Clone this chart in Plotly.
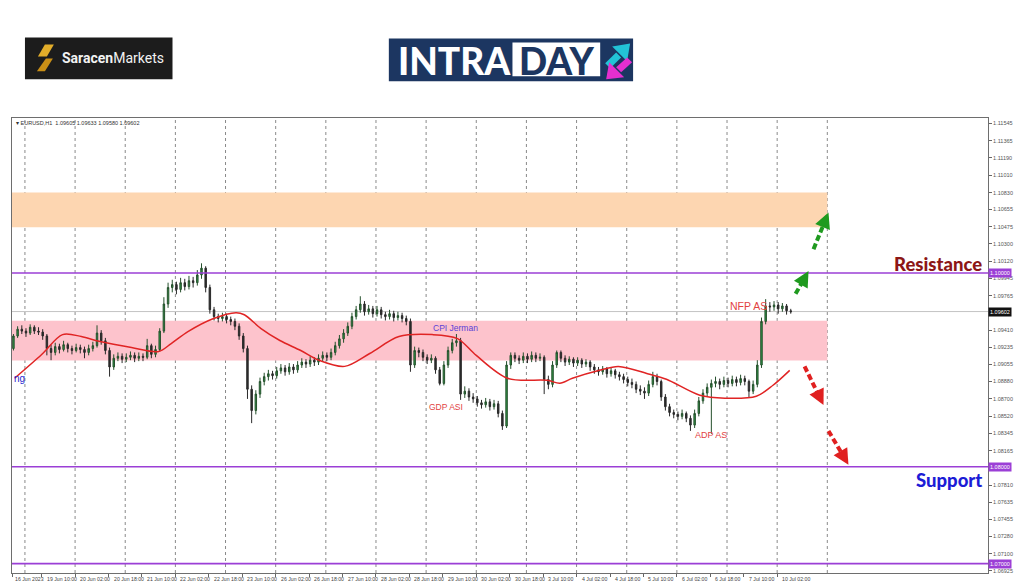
import plotly.graph_objects as go

# ---------------- DATA (EURUSD, 2-hour bars) ----------------
opens = [1.0922,1.0935,1.0942,1.0940,1.0938,1.0944,1.0940,1.0939,1.0935,1.0922,
1.0918,1.0924,1.0921,1.0926,1.0922,1.0920,1.0923,1.0921,1.0918,1.0922,
1.0925,1.0938,1.0930,1.0920,1.0903,1.0912,1.0914,1.0911,1.0913,1.0915,
1.0912,1.0914,1.0913,1.0925,1.0916,1.0921,1.0940,1.0968,1.0985,1.0988,
1.0983,1.0990,1.0986,1.0992,1.0990,1.0998,1.1005,1.0985,1.0962,1.0955,
1.0953,1.0955,1.0952,1.0950,1.0945,1.0935,1.0922,1.0880,1.0858,1.0875,
1.0888,1.0893,1.0896,1.0894,1.0899,1.0902,1.0898,1.0903,1.0900,1.0905,
1.0908,1.0906,1.0910,1.0908,1.0912,1.0915,1.0913,1.0918,1.0925,1.0932,
1.0938,1.0945,1.0955,1.0962,1.0968,1.0960,1.0963,1.0958,1.0962,1.0957,
1.0955,1.0958,1.0954,1.0956,1.0953,1.0950,1.0905,1.0920,1.0918,1.0913,
1.0910,1.0912,1.0900,1.0886,1.0905,1.0920,1.0928,1.0930,1.0875,1.0878,
1.0872,1.0870,1.0866,1.0864,1.0867,1.0862,1.0865,1.0855,1.0842,1.0905,
1.0915,1.0912,1.0910,1.0914,1.0911,1.0915,1.0912,1.0913,1.0890,1.0885,
1.0905,1.0918,1.0912,1.0908,1.0911,1.0907,1.0910,1.0906,1.0908,1.0903,
1.0900,1.0898,1.0901,1.0896,1.0899,1.0895,1.0893,1.0890,1.0887,1.0885,
1.0880,1.0878,1.0876,1.0885,1.0893,1.0888,1.0872,1.0862,1.0856,1.0854,
1.0852,1.0855,1.0850,1.0843,1.0855,1.0868,1.0876,1.0882,1.0886,1.0888,
1.0885,1.0889,1.0886,1.0890,1.0887,1.0891,1.0888,1.0878,1.0885,1.0905,
1.0950,1.0966,1.0965,1.0967,1.0963,1.0966,1.0961]
highs = [1.0937,1.0945,1.0946,1.0943,1.0947,1.0946,1.0944,1.0942,1.0937,1.0926,
1.0928,1.0927,1.0930,1.0928,1.0925,1.0927,1.0926,1.0924,1.0926,1.0929,
1.0946,1.0941,1.0933,1.0923,1.0916,1.0918,1.0917,1.0917,1.0919,1.0918,
1.0918,1.0917,1.0932,1.0927,1.0925,1.0943,1.0975,1.0990,1.0993,1.0991,
1.0995,1.0994,1.0997,1.0996,1.1003,1.1010,1.1007,1.0988,1.0965,1.0958,
1.0959,1.0958,1.0955,1.0953,1.0948,1.0938,1.0925,1.0884,1.0879,1.0892,
1.0897,1.0900,1.0899,1.0903,1.0906,1.0905,1.0907,1.0906,1.0909,1.0912,
1.0911,1.0914,1.0913,1.0916,1.0919,1.0918,1.0922,1.0929,1.0936,1.0942,
1.0949,1.0959,1.0966,1.0976,1.0971,1.0967,1.0966,1.0966,1.0965,1.0960,
1.0962,1.0961,1.0960,1.0959,1.0956,1.0953,1.0924,1.0923,1.0921,1.0916,
1.0916,1.0914,1.0903,1.0909,1.0924,1.0932,1.0937,1.0933,1.0883,1.0881,
1.0876,1.0873,1.0869,1.0871,1.0870,1.0869,1.0868,1.0858,1.0909,1.0918,
1.0918,1.0915,1.0918,1.0917,1.0919,1.0918,1.0917,1.0915,1.0894,1.0909,
1.0920,1.0920,1.0915,1.0914,1.0913,1.0913,1.0912,1.0911,1.0910,1.0906,
1.0903,1.0904,1.0903,1.0902,1.0901,1.0898,1.0896,1.0893,1.0891,1.0888,
1.0884,1.0882,1.0889,1.0898,1.0896,1.0890,1.0875,1.0865,1.0859,1.0857,
1.0859,1.0857,1.0853,1.0859,1.0872,1.0880,1.0886,1.0890,1.0893,1.0891,
1.0893,1.0892,1.0894,1.0893,1.0895,1.0894,1.0890,1.0889,1.0910,1.0954,
1.0973,1.0970,1.0971,1.0970,1.0969,1.0968,1.0963]
lows = [1.0920,1.0933,1.0937,1.0934,1.0936,1.0937,1.0936,1.0931,1.0915,1.0910,
1.0915,1.0917,1.0919,1.0918,1.0916,1.0918,1.0917,1.0912,1.0915,1.0919,
1.0923,1.0926,1.0916,1.0893,1.0900,1.0909,1.0907,1.0908,1.0910,1.0908,
1.0909,1.0909,1.0911,1.0912,1.0913,1.0919,1.0938,1.0964,1.0980,1.0978,
1.0980,1.0982,1.0983,1.0985,1.0987,1.0994,1.0980,1.0958,1.0951,1.0949,
1.0950,1.0948,1.0946,1.0941,1.0931,1.0918,1.0870,1.0845,1.0854,1.0871,
1.0884,1.0889,1.0890,1.0891,1.0896,1.0894,1.0895,1.0896,1.0897,1.0902,
1.0902,1.0903,1.0904,1.0905,1.0909,1.0909,1.0910,1.0915,1.0922,1.0928,
1.0935,1.0942,1.0952,1.0959,1.0956,1.0957,1.0954,1.0955,1.0953,1.0951,
1.0952,1.0950,1.0951,1.0949,1.0946,1.0898,1.0902,1.0913,1.0909,1.0906,
1.0907,1.0896,1.0884,1.0884,1.0902,1.0917,1.0924,1.0869,1.0871,1.0868,
1.0866,1.0862,1.0860,1.0861,1.0858,1.0859,1.0851,1.0838,1.0840,1.0901,
1.0908,1.0906,1.0907,1.0907,1.0908,1.0908,1.0909,1.0875,1.0880,1.0882,
1.0902,1.0908,1.0904,1.0905,1.0903,1.0904,1.0902,1.0903,1.0899,1.0896,
1.0894,1.0895,1.0892,1.0893,1.0891,1.0889,1.0886,1.0883,1.0881,1.0876,
1.0874,1.0870,1.0873,1.0882,1.0884,1.0868,1.0858,1.0852,1.0850,1.0848,
1.0849,1.0846,1.0837,1.0840,1.0852,1.0865,1.0872,1.0834,1.0882,1.0880,
1.0882,1.0882,1.0883,1.0883,1.0884,1.0884,1.0872,1.0875,1.0882,1.0902,
1.0947,1.0960,1.0961,1.0958,1.0960,1.0957,1.0958]
closes = [1.0935,1.0942,1.0940,1.0938,1.0944,1.0940,1.0939,1.0935,1.0922,1.0918,
1.0924,1.0921,1.0926,1.0922,1.0920,1.0923,1.0921,1.0918,1.0922,1.0925,
1.0938,1.0930,1.0920,1.0903,1.0912,1.0914,1.0911,1.0913,1.0915,1.0912,
1.0914,1.0913,1.0925,1.0916,1.0921,1.0940,1.0968,1.0985,1.0988,1.0983,
1.0990,1.0986,1.0992,1.0990,1.0998,1.1005,1.0985,1.0962,1.0955,1.0953,
1.0955,1.0952,1.0950,1.0945,1.0935,1.0922,1.0880,1.0858,1.0875,1.0888,
1.0893,1.0896,1.0894,1.0899,1.0902,1.0898,1.0903,1.0900,1.0905,1.0908,
1.0906,1.0910,1.0908,1.0912,1.0915,1.0913,1.0918,1.0925,1.0932,1.0938,
1.0945,1.0955,1.0962,1.0968,1.0960,1.0963,1.0958,1.0962,1.0957,1.0955,
1.0958,1.0954,1.0956,1.0953,1.0950,1.0905,1.0920,1.0918,1.0913,1.0910,
1.0912,1.0900,1.0886,1.0905,1.0920,1.0928,1.0930,1.0875,1.0878,1.0872,
1.0870,1.0866,1.0864,1.0867,1.0862,1.0865,1.0855,1.0842,1.0905,1.0915,
1.0912,1.0910,1.0914,1.0911,1.0915,1.0912,1.0913,1.0890,1.0885,1.0905,
1.0918,1.0912,1.0908,1.0911,1.0907,1.0910,1.0906,1.0908,1.0903,1.0900,
1.0898,1.0901,1.0896,1.0899,1.0895,1.0893,1.0890,1.0887,1.0885,1.0880,
1.0878,1.0876,1.0885,1.0893,1.0888,1.0872,1.0862,1.0856,1.0854,1.0852,
1.0855,1.0850,1.0843,1.0855,1.0868,1.0876,1.0882,1.0886,1.0888,1.0885,
1.0889,1.0886,1.0890,1.0887,1.0891,1.0888,1.0878,1.0885,1.0905,1.0950,
1.0966,1.0965,1.0967,1.0963,1.0966,1.0961,1.0960]

# moving average (hour-index, price)
ma_hour = [1, 14, 24, 33, 42, 57, 70, 76, 84, 96, 107, 111, 119, 128, 138, 147, 159,
           171, 185, 201, 213, 222, 237, 256, 262, 268, 281, 290, 305, 313, 329, 341,
           356, 364, 372]
ma_price = [1.08913, 1.09159, 1.09364, 1.09344, 1.09292, 1.09231, 1.09190, 1.09272,
            1.09395, 1.09528, 1.09590, 1.09569, 1.09426, 1.09303, 1.09200, 1.09097,
            1.09036, 1.09169, 1.09344, 1.09364, 1.09323, 1.09149, 1.08913, 1.08892,
            1.08862, 1.08913, 1.08995, 1.09036, 1.08954, 1.08903, 1.08738, 1.08708,
            1.08728, 1.08841, 1.08995]

# time axis labels (hour index of each label)
tick_hour = [0, 14, 30, 46, 62, 78, 94, 110, 126, 142, 158, 174, 190, 206, 222, 238,
             254, 270, 286, 302, 318, 334, 350, 366]
tick_text = ["16 Jun 2023", "19 Jun 10:00", "20 Jun 02:00", "20 Jun 18:00", "21 Jun 10:00",
             "22 Jun 02:00", "22 Jun 18:00", "23 Jun 10:00", "26 Jun 02:00", "26 Jun 18:00",
             "27 Jun 10:00", "28 Jun 02:00", "28 Jun 18:00", "29 Jun 10:00", "30 Jun 02:00",
             "30 Jun 18:00", "3 Jul 10:00", "4 Jul 02:00", "4 Jul 18:00", "5 Jul 10:00",
             "6 Jul 02:00", "6 Jul 18:00", "7 Jul 10:00", "10 Jul 02:00"]
grid_hour = [6, 30, 54, 78, 102, 126, 150, 174, 198, 222, 246, 270, 294, 318, 342, 366, 390]

price_ticks = [1.11545, 1.11365, 1.11190, 1.11010, 1.10830, 1.10655, 1.10475, 1.10300,
               1.10120, 1.09945, 1.09765, 1.09410, 1.09235, 1.09055, 1.08880, 1.08700,
               1.08520, 1.08345, 1.08165, 1.07810, 1.07635, 1.07455, 1.07280, 1.07100,
               1.06925]

levels = [1.10000, 1.08000, 1.07000]
current_price = 1.09602
supply_zone = [1.10472, 1.10831]
demand_zone = [1.09097, 1.09508]
zone_end_hour = 390

# ---------------- FIGURE ----------------
X_MIN, X_MAX = -0.19, 466.9
Y_MIN, Y_MAX = 1.06903, 1.11600
L, R, T, B = 11, 990, 118, 576
W, H = 1024, 587

def px(xp):
    return (xp - L) / (R - L)

def py(yp):
    return (B - yp) / (B - T)

def hx(xp):
    return X_MIN + (xp - L) / (R - L) * (X_MAX - X_MIN)

def pv(yp):
    return Y_MAX - (yp - T) / (B - T) * (Y_MAX - Y_MIN)

bar_x = [2 * j + 0.5 for j in range(len(closes))]

fig = go.Figure()

fig.add_trace(go.Candlestick(
    x=bar_x, open=opens, high=highs, low=lows, close=closes,
    increasing=dict(line=dict(color='#25502c', width=1), fillcolor='#2f9b47'),
    decreasing=dict(line=dict(color='#2a2a2a', width=1), fillcolor='#2a2a2a'),
    whiskerwidth=0, showlegend=False, hoverinfo='skip'))

fig.add_trace(go.Scatter(
    x=ma_hour, y=ma_price, mode='lines',
    line=dict(color='#e02424', width=1.5, shape='spline', smoothing=0.9),
    showlegend=False, hoverinfo='skip'))

shapes = []
shapes.append(dict(type='rect', xref='x', yref='y', x0=X_MIN, x1=zone_end_hour,
                   y0=supply_zone[0], y1=supply_zone[1], fillcolor='#fdd6b1',
                   line=dict(width=0), layer='below'))
shapes.append(dict(type='rect', xref='x', yref='y', x0=X_MIN, x1=zone_end_hour,
                   y0=demand_zone[0], y1=demand_zone[1], fillcolor='#fdc3cc',
                   line=dict(width=0), layer='below'))
for g in grid_hour:
    shapes.append(dict(type='line', xref='x', yref='paper', x0=g, x1=g, y0=0, y1=1,
                       line=dict(color='#8a8a8a', width=1, dash='dot'), layer='below'))
shapes.append(dict(type='line', xref='paper', yref='y', x0=0, x1=1,
                   y0=current_price, y1=current_price,
                   line=dict(color='#c4c4c4', width=1), layer='below'))
for lv in levels:
    shapes.append(dict(type='line', xref='paper', yref='y', x0=0, x1=1, y0=lv, y1=lv,
                       line=dict(color='#9b3fd6', width=1.6)))

arrows = [((797, 295), (810, 272), '#1f9a1f'),
          ((815, 250), (830, 213), '#1f9a1f'),
          ((806, 368), (825, 407), '#e02020'),
          ((830, 433), (850, 467), '#e02020')]
annotations = []
for (x0, y0), (x1, y1), col in arrows:
    sx = x0 + (x1 - x0) * 0.72
    sy = y0 + (y1 - y0) * 0.72
    shapes.append(dict(type='line', xref='x', yref='y', x0=hx(x0), y0=pv(y0),
                       x1=hx(sx), y1=pv(sy),
                       line=dict(color=col, width=4, dash='6px,3px')))
    annotations.append(dict(x=hx(x1), y=pv(y1), xref='x', yref='y', text='',
                            showarrow=True, ax=(sx - x1) * 0.9, ay=(sy - y1) * 0.9,
                            arrowhead=2, arrowsize=0.9, arrowwidth=3.5, arrowcolor=col))

# logos ---------------------------------------------------------
shapes.append(dict(type='rect', xref='paper', yref='paper', x0=px(24), x1=px(172),
                   y0=py(79), y1=py(37), fillcolor='#1c1c1c', line=dict(width=0)))

def poly(pts, color):
    d = 'M ' + ' L '.join('{},{}'.format(px(a), py(b)) for a, b in pts) + ' Z'
    return dict(type='path', xref='paper', yref='paper', path=d, fillcolor=color,
                line=dict(width=0))

shapes.append(poly([(44, 44), (53, 44), (46, 56), (37, 56)], '#e2ad2a'))
shapes.append(poly([(45, 58), (52, 58), (44, 71), (36, 71)], '#c98f16'))
annotations.append(dict(xref='paper', yref='paper', x=px(59), y=py(58), xanchor='left',
                        yanchor='middle', showarrow=False,
                        text='<b>Saracen</b>Markets',
                        font=dict(family='Roboto', size=14, color='#f2f2f2')))

shapes.append(dict(type='rect', xref='paper', yref='paper', x0=px(389), x1=px(634),
                   y0=py(81), y1=py(38), fillcolor='#1c3661', line=dict(width=0)))
shapes.append(dict(type='rect', xref='paper', yref='paper', x0=px(513), x1=px(601),
                   y0=py(76), y1=py(42), fillcolor='#ffffff', line=dict(width=0)))
annotations.append(dict(xref='paper', yref='paper', x=px(396), y=py(60), xanchor='left',
                        yanchor='middle', showarrow=False, text='INTRA',
                        font=dict(family='Lato', size=37, weight=900, color='#ffffff')))
annotations.append(dict(xref='paper', yref='paper', x=px(557), y=py(60), xanchor='center',
                        yanchor='middle', showarrow=False, text='DAY',
                        font=dict(family='Lato', size=37, weight=900, color='#1c3661')))

shapes.append(poly([(606, 63), (617, 52), (622, 57), (611, 68)], '#22c3d6'))
shapes.append(poly([(613, 46), (631, 43), (628, 61)], '#22c3d6'))
shapes.append(poly([(617, 67), (628, 57), (633, 62), (622, 72)], '#e52fcf'))
shapes.append(poly([(607, 79), (610, 62), (625, 77)], '#e52fcf'))

# texts on chart -----------------------------------------------
annotations += [
    dict(xref='paper', yref='paper', x=px(986), y=py(265), xanchor='right', yanchor='middle',
         showarrow=False, text='Resistance',
         font=dict(family='Lato', size=18.5, weight=900, color='#8c1616')),
    dict(xref='paper', yref='paper', x=px(986), y=py(482), xanchor='right', yanchor='middle',
         showarrow=False, text='Support',
         font=dict(family='Lato', size=18.5, weight=900, color='#1c1cd6')),
    dict(xref='paper', yref='paper', x=px(729), y=py(307), xanchor='left', showarrow=False,
         text='NFP AS', font=dict(family='Liberation Sans', size=10.5, color='#e2423f')),
    dict(xref='paper', yref='paper', x=px(431), y=py(329), xanchor='left', showarrow=False,
         text='CPI Jerman', font=dict(family='Liberation Sans', size=8.5, color='#5b3fd6')),
    dict(xref='paper', yref='paper', x=px(427), y=py(409), xanchor='left', showarrow=False,
         text='GDP ASI', font=dict(family='Liberation Sans', size=8.5, color='#e2423f')),
    dict(xref='paper', yref='paper', x=px(694), y=py(444), xanchor='left', showarrow=False,
         text='ADP AS', font=dict(family='Liberation Sans', size=9, color='#e2423f')),
    dict(xref='paper', yref='paper', x=px(11), y=py(380), xanchor='left', showarrow=False,
         text='ng', font=dict(family='Liberation Sans', size=10, color='#2a2ad0')),
    dict(xref='paper', yref='paper', x=px(13), y=py(123), xanchor='left', yanchor='middle',
         showarrow=False, text='\u25be EURUSD,H1  1.09605 1.09633 1.09580 1.09602',
         font=dict(family='Liberation Sans', size=5.5, color='#333333')),
]

for val, bg in [(1.10000, '#9b3fd6'), (current_price, '#111111'),
                (1.08000, '#9b3fd6'), (1.07000, '#9b3fd6')]:
    annotations.append(dict(xref='paper', yref='y', x=1, y=val, xanchor='left',
                            yanchor='middle', showarrow=False,
                            text='{:.5f}'.format(val), bgcolor=bg, borderpad=1,
                            font=dict(family='Liberation Sans', size=5.5, color='#ffffff')))

for hpos, txt in zip(tick_hour, tick_text):
    annotations.append(dict(xref='x', yref='paper', x=hpos, y=py(582), xanchor='left',
                            yanchor='middle', xshift=3 if hpos > 0 else 1, showarrow=False,
                            text=txt, font=dict(family='Liberation Sans', size=5.2,
                                                color='#444444')))

fig.update_layout(
    width=W, height=H,
    margin=dict(l=L, r=W - R, t=T, b=H - B),
    paper_bgcolor='#ffffff', plot_bgcolor='#ffffff',
    boxgap=0.5,
    shapes=shapes, annotations=annotations,
    showlegend=False,
    xaxis=dict(range=[X_MIN, X_MAX], rangeslider=dict(visible=False),
               showticklabels=False, showgrid=False, zeroline=False,
               tickvals=tick_hour, ticks='outside', ticklen=3, tickcolor='#666',
               showline=True, linecolor='#6e6e6e', linewidth=1, mirror=True),
    yaxis=dict(range=[Y_MIN, Y_MAX], side='right', showgrid=False, zeroline=False,
               tickvals=price_ticks, ticktext=['{:.5f}'.format(v) for v in price_ticks],
               tickfont=dict(family='Liberation Sans', size=5.5, color='#555555'),
               ticks='outside', ticklen=3, tickcolor='#666',
               showline=True, linecolor='#6e6e6e', linewidth=1, mirror=True),
)

fig.write_html("out.html", config={'displayModeBar': False},
               post_script="document.body.style.margin='0';")
